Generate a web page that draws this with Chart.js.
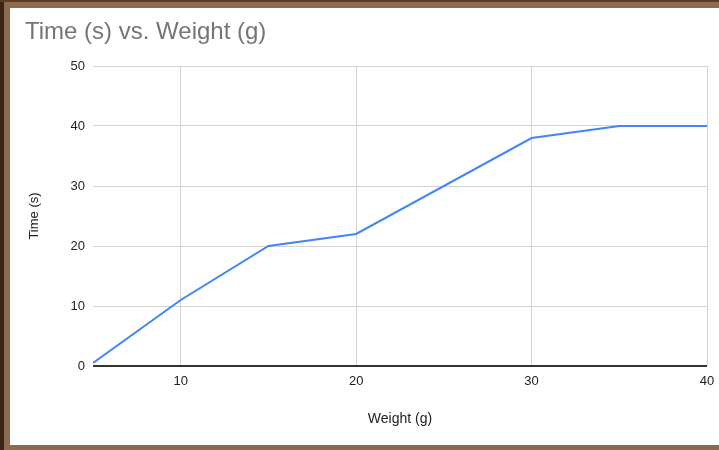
<!DOCTYPE html>
<html><head><meta charset="utf-8">
<script src="https://cdn.jsdelivr.net/npm/chart.js@4/dist/chart.umd.min.js"></script>
<style>
html,body{margin:0;padding:0;}
body{width:719px;height:450px;background:#8c6a4e;position:relative;overflow:hidden;}
#dl{position:absolute;left:0;top:0;width:4px;height:450px;background:#3a2416;}
#dt{position:absolute;left:0;top:0;width:719px;height:2px;background:#5a3c26;}
#wrap{position:absolute;left:10px;top:8px;width:709px;height:437px;background:#fff;}
</style></head>
<body><div id="dl"></div><div id="dt"></div>
<div id="wrap"><canvas id="c" width="709" height="437"></canvas></div>
<script>
const chartTitle = 'Time (s) vs. Weight (g)';
const xTitle = 'Weight (g)';
const yTitle = 'Time (s)';
const weights = [5, 10, 15, 20, 30, 35, 40];
const times = [0.5, 11, 20, 22, 38, 40, 40];
const xTickValues = [10, 20, 30, 40];
const yTickValues = [0, 10, 20, 30, 40, 50];

const titlePlugin = {
  id: 'ctitle',
  afterDraw(chart) {
    const ctx = chart.ctx;
    ctx.save();
    ctx.font = '24px "Liberation Sans", Arial, sans-serif';
    ctx.fillStyle = '#757575';
    ctx.textBaseline = 'alphabetic';
    ctx.fillText(chartTitle, 15, 31);
    ctx.restore();
  }
};

new Chart(document.getElementById('c'), {
  type: 'line',
  data: {
    datasets: [{
      data: weights.map((w, i) => ({x: w, y: times[i]})),
      borderColor: '#4285f4',
      borderWidth: 2,
      pointRadius: 0,
      tension: 0,
      fill: false
    }]
  },
  options: {
    responsive: false,
    animation: false,
    layout: {padding: {top: 58, right: 12, left: 17, bottom: 17}},
    plugins: {legend: {display: false}, tooltip: {enabled: false}},
    scales: {
      x: {
        type: 'linear',
        min: 5, max: 40,
        afterBuildTicks(s) { s.ticks = xTickValues.map(v => ({value: v})); },
        afterFit(s) { s.height = 62; s.paddingLeft = 0; s.paddingRight = 0; },
        border: {display: false},
        grid: {color: '#d3d3d3', lineWidth: 1, drawTicks: false},
        ticks: {color: '#222', padding: 8, font: {family: '"Liberation Sans", Arial, sans-serif', size: 13}},
        title: {display: true, text: xTitle, color: '#222', padding: {top: 18, bottom: 0}, font: {family: '"Liberation Sans", Arial, sans-serif', size: 14}}
      },
      y: {
        min: 0, max: 50,
        afterBuildTicks(s) { s.ticks = yTickValues.map(v => ({value: v})); },
        afterFit(s) { s.width = 66; },
        border: {display: false},
        grid: {color: c => c.tick && c.tick.value === 0 ? '#333' : '#d3d3d3', lineWidth: c => c.tick && c.tick.value === 0 ? 2 : 1, drawTicks: false},
        ticks: {color: '#222', padding: 8, font: {family: '"Liberation Sans", Arial, sans-serif', size: 13}},
        title: {display: true, text: yTitle, color: '#222', padding: {top: 0, bottom: 0}, font: {family: '"Liberation Sans", Arial, sans-serif', size: 13}}
      }
    }
  },
  plugins: [titlePlugin]
});
</script>
</body></html>
